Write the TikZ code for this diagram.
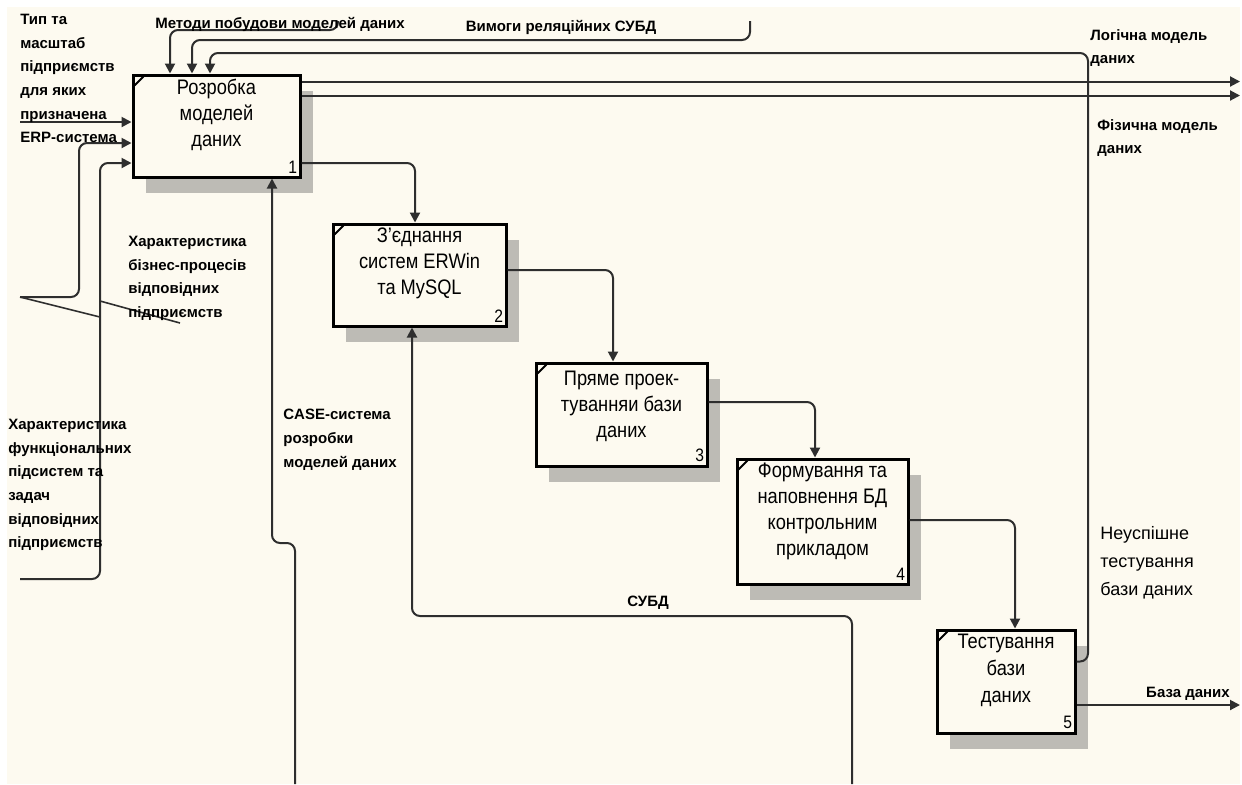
\documentclass[tikz,border=0pt]{standalone}
\usepackage{fontspec}
\setmainfont{Liberation Sans}
\newfontfamily\boxfont[FakeStretch=0.87]{Liberation Sans}
\usepackage{tikz}
\usepackage{xcolor}
\usetikzlibrary{positioning,arrows.meta,shadows}
\definecolor{IdefCream}{HTML}{FDFAF0}
\definecolor{IdefLine}{HTML}{2E2E2E}
\definecolor{IdefShade}{HTML}{BDBBB5}
\tikzset{
  func/.style={draw=black, line width=1.5pt, fill=IdefCream, inner sep=0pt,
    drop shadow={shadow xshift=6.5pt, shadow yshift=-8pt, opacity=1, fill=IdefShade}},
  functext/.style={font=\boxfont\fontsize{10.5}{13}\selectfont, align=center, anchor=north, inner sep=0pt},
  numlbl/.style={font=\boxfont\fontsize{9}{10}\selectfont, inner sep=0pt},
  lbl/.style={font=\fontsize{7.5}{11.8}\selectfont\bfseries, align=left, inner sep=0pt},
  arr/.style={draw=IdefLine, line width=1pt, rounded corners=4pt, -{Triangle[length=5pt,width=5pt]}},
  squig/.style={draw=IdefLine, line width=0.8pt}
}

\begin{document}
\begin{tikzpicture}[x=0.5pt, y=-0.5pt]
  % Page and background
  \fill[white] (0,0) rectangle (1242,784);
  \fill[IdefCream] (7,7) rectangle (1240,784);
  \useasboundingbox (0,0) rectangle (1242,784);

  % Function boxes
  \node[func, minimum width=83.5pt, minimum height=51pt]   (b1) at (216.5,126)  {};
  \node[func, minimum width=86.5pt, minimum height=51pt]   (b2) at (419.5,275)  {};
  \node[func, minimum width=85.5pt, minimum height=51.5pt] (b3) at (621.5,414.5) {};
  \node[func, minimum width=85.5pt, minimum height=62.5pt] (b4) at (822.5,521.5) {};
  \node[func, minimum width=69pt,   minimum height=51.5pt] (b5) at (1006,681.5) {};

  % Box names
  \node[functext] (t1) at ([yshift=-2.5pt]b1.north) {Розробка\\моделей\\даних};
  \node[functext] (t2) at ([yshift=-2.5pt]b2.north) {З’єднання\\систем ERWin\\та MySQL};
  \node[functext] (t3) at ([yshift=-4.5pt]b3.north) {Пряме проек-\\туванняи бази\\даних};
  \node[functext] (t4) at ([yshift=-2.5pt]b4.north) {Формування та\\наповнення БД\\контрольним\\прикладом};
  \node[functext, font=\boxfont\fontsize{10.5}{13.5}\selectfont] (t5) at ([yshift=-2.5pt]b5.north) {Тестування\\бази\\даних};

  % Corner marks and numbers
  \foreach \i in {1,...,5} {
    \draw[line width=1pt] ([shift={(1.5pt,-6pt)}]b\i.north west) -- ([shift={(6pt,-1.5pt)}]b\i.north west);
    \node[numlbl, anchor=south east] (n\i) at ([shift={(-2pt,2.5pt)}]b\i.south east) {\i};
  }

  % Inputs of box 1
  \coordinate (in1) at (20,122);
  \coordinate (in2) at (20,297);
  \coordinate (in2k) at (79,143);
  \coordinate (in3) at (20,579);
  \coordinate (in3k) at (100,163);
  \draw[arr] (in1) -- (in1 -| b1.west);
  \draw[arr] (in2) -| (in2k) -- (in2k -| b1.west);
  \draw[arr] (in3) -| (in3k) -- (in3k -| b1.west);

  % Squiggle to the label
  \coordinate (sq1) at (100,317);
  \coordinate (sq2) at (100,301);
  \coordinate (sq3) at (180,323);
  \draw[squig] (in2) -- (sq1) -- (sq2) -- (sq3);

  % Controls of box 1
  \coordinate (c1) at (338,21);
  \coordinate (c1k) at (170,30);
  \coordinate (c2) at (750,21);
  \coordinate (c2k) at (192,40);
  \draw[arr] (c1) |- (c1k) -- (c1k |- b1.north);
  \draw[arr] (c2) |- (c2k) -- (c2k |- b1.north);

  % Feedback from box 5
  \coordinate (fbx) at (1088,53);
  \coordinate (fbk) at (210,53);
  \draw[arr] ([yshift=10pt]b5.east) -| (fbx) -- (fbk) -- (fbk |- b1.north);

  % Outputs
  \coordinate (outR) at (1240,0);
  \coordinate (o1) at ([yshift=-4pt]b1.north east);
  \coordinate (o2) at ([yshift=-11pt]b1.north east);
  \coordinate (o5) at ([yshift=-11.75pt]b5.east);
  \draw[arr] (o1) -- (o1 -| outR);
  \draw[arr] (o2) -- (o2 -| outR);
  \draw[arr] (o5) -- (o5 -| outR);

  % Box to box
  \draw[arr] ([yshift=-18.5pt]b1.east) -| ([xshift=-2.25pt]b2.north);
  \draw[arr] ([yshift=2.5pt]b2.east) -| ([xshift=-4.25pt]b3.north);
  \draw[arr] ([yshift=6.25pt]b3.east) -| ([xshift=-3.75pt]b4.north);
  \draw[arr] ([yshift=0.75pt]b4.east) -| ([xshift=4.5pt]b5.north);

  % Mechanisms
  \coordinate (m1) at (295,784);
  \coordinate (m1k) at (272,543);
  \coordinate (m2) at (852,784);
  \coordinate (m2k) at (412,616);
  \draw[arr] (m1) |- (m1k) -- (m1k |- b1.south);
  \draw[arr] (m2) |- (m2k) -- (m2k |- b2.south);

  % Arrow labels
  \node[lbl, anchor=north west] (l1) at (20,14) {Тип та\\масштаб\\підприємств\\для яких\\призначена\\ERP-система};
  \node[lbl, anchor=base] (l2) at (280,28) {Методи побудови моделей даних};
  \node[lbl, anchor=base] (l3) at (561,31) {Вимоги реляційних СУБД};
  \node[lbl, anchor=north west] (l4) at (1090,29) {Логічна модель\\даних};
  \node[lbl, anchor=north west] (l5) at (1097,119) {Фізична модель\\даних};
  \node[lbl, anchor=north west] (l6) at (128,236) {Характеристика\\бізнес-процесів\\відповідних\\підприємств};
  \node[lbl, anchor=north west] (l7) at (8,419) {Характеристика\\функціональних\\підсистем та\\задач\\відповідних\\підприємств};
  \node[lbl, anchor=north west] (l8) at (283,409) {CASE-система\\розробки\\моделей даних};
  \node[lbl] (l9) at (648,603) {СУБД};
  \node[lbl] (l10) at (1188,694) {База даних};
  \node[lbl, font=\fontsize{9}{14}\selectfont, anchor=north west] (l11) at (1100,526) {Неуспішне\\тестування\\бази даних};
\end{tikzpicture}
\end{document}
